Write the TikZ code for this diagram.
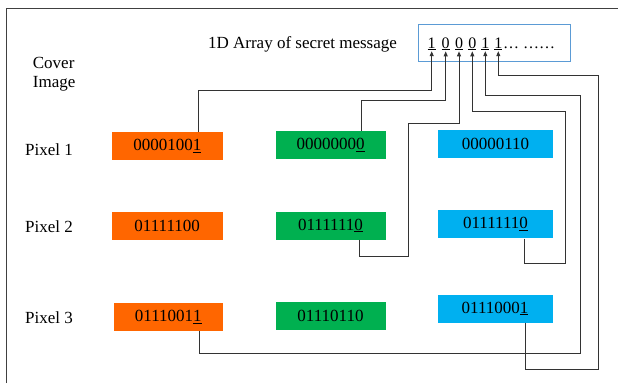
\documentclass[tikz,border=0pt]{standalone}
\usepackage{fontspec}
\setmainfont{Liberation Serif}
\usetikzlibrary{arrows.meta}
\definecolor{cellorange}{HTML}{FF6600}
\definecolor{cellgreen}{HTML}{00B050}
\definecolor{cellblue}{HTML}{00B0F0}
\definecolor{msgblue}{HTML}{5B9BD5}

\begin{document}
\begin{tikzpicture}[
        x=1pt,
        y=-1pt,
        font=\fontsize{17}{21}\selectfont,
        link/.style={line width=0.9pt, draw=black!80},
        tip/.style={-{Triangle[length=5pt,width=4pt]}, shorten >=1pt},
        cell/.style={minimum height=28pt, inner sep=0pt, text=black},
        bit/.style={anchor=base, inner sep=0pt, font=\fontsize{16}{18}\selectfont}
    ]
        \useasboundingbox (0,0) rectangle (618,383);
        \draw[black!75, line width=0.8pt] (6,383) -- (6,8.5) -- (618,8.5);

        % secret message
        \node[draw=msgblue, line width=0.8pt, minimum width=151.7pt, minimum height=37.3pt, inner sep=0pt] (msg) at (494.5,42.7) {};
        \node[anchor=base] (title) at (302.5,48) {1D Array of secret message};
        \foreach \i/\x/\v in {1/431.7/1,2/445.7/0,3/459/0,4/472.3/0,5/485.3/1,6/498.3/1}{
            \node[bit] (b\i) at (\x,48) {\underline{\v}};
        }
        \node[bit, anchor=base west] (dots) at (503,48) {…\ ……};

        % labels
        \node[anchor=base west, inner sep=0pt] (cover) at (32.7,68) {Cover};
        \node[anchor=base west, inner sep=0pt] (image) at (32.7,87) {Image};
        \foreach \y/\lab in {155/1,232/2,323/3}{
            \node[anchor=base west, inner sep=0pt] (p\lab) at (25,\y) {Pixel \lab};
        }

        % cover image pixels
        \node[cell, fill=cellorange, minimum width=111pt] (o1) at (167.3,146.2) {0000100\underline{1}};
        \node[cell, fill=cellorange, minimum width=111pt] (o2) at (167.2,225.7) {01111100};
        \node[cell, fill=cellorange, minimum width=109pt] (o3) at (168.3,317) {0111001\underline{1}};
        \node[cell, fill=cellgreen, minimum width=110pt] (g1) at (330.5,145.2) {0000000\underline{0}};
        \node[cell, fill=cellgreen, minimum width=110pt] (g2) at (330.5,225.5) {0111111\underline{0}};
        \node[cell, fill=cellgreen, minimum width=110pt] (g3) at (330.5,315.5) {01110110};
        \node[cell, fill=cellblue, minimum width=114.5pt] (c1) at (495.5,144) {00000110};
        \node[cell, fill=cellblue, minimum width=114.5pt] (c2) at (495.5,224.4) {0111111\underline{0}};
        \node[cell, fill=cellblue, minimum width=115pt] (c3) at (495,308.5) {0111000\underline{1}};

        % embedding paths
        \draw[link, tip] ([xshift=31pt]o1.north) |- (431.7,90) -- (b1.south);
        \draw[link, tip] ([xshift=31pt]g1.north) |- (445.7,100) -- (b2.south);
        \draw[link, tip] ([xshift=29pt]g2.south) |- (408.3,256) |- (459,123.3) -- (b3.south);
        \draw[link, tip] ([xshift=29pt]c2.south) |- (565.6,263.3) |- (472.3,111.7) -- (b4.south);
        \draw[link, tip] ([xshift=31pt]o3.south) |- (580.8,353.3) |- (485.3,95.7) -- (b5.south);
        \draw[link, tip] ([xshift=30pt]c3.south) |- (598.3,369.5) |- (498.3,75.8) -- (b6.south);
    \end{tikzpicture}
\end{document}
